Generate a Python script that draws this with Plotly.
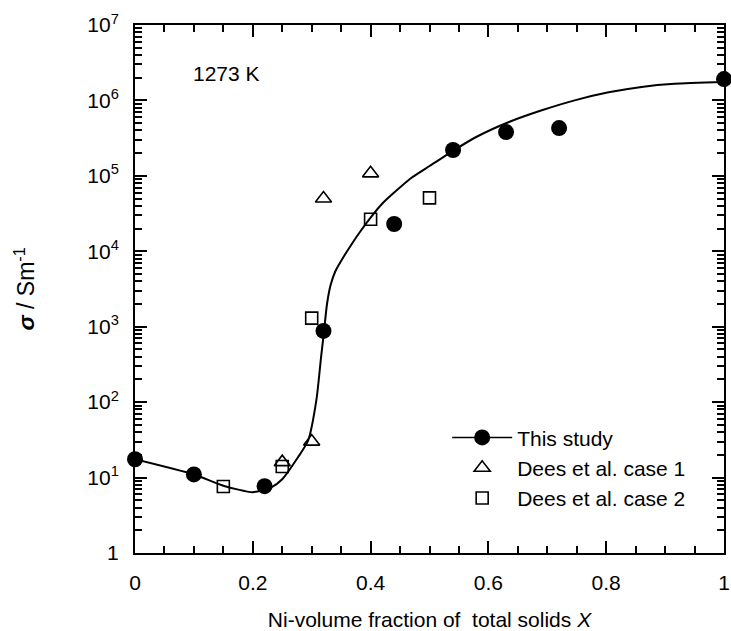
import plotly.graph_objects as go

# ---- data ----
study_x = [0.0, 0.1, 0.22, 0.32, 0.44, 0.54, 0.63, 0.72, 1.0]
study_y = [17.5, 11.0, 7.7, 880, 2.3e4, 2.2e5, 3.8e5, 4.3e5, 1.92e6]

case1_x = [0.25, 0.30, 0.32, 0.40]
case1_y = [16.0, 30.0, 5.0e4, 1.08e5]

case2_x = [0.15, 0.25, 0.30, 0.40, 0.50]
case2_y = [7.6, 14.0, 1300, 2.66e4, 5.1e4]

fit_x = [0.0, 0.1, 0.15, 0.2, 0.23, 0.25, 0.277, 0.294, 0.308, 0.316, 0.321,
         0.326, 0.332, 0.34, 0.356, 0.37, 0.384, 0.40, 0.42, 0.44, 0.47,
         0.50, 0.54, 0.58, 0.636, 0.692, 0.748, 0.804, 0.86, 0.916, 1.0]
fit_y = [17.5, 11.0, 7.8, 6.4, 7.3, 9.5, 18.7, 31, 107, 400, 880,
         2000, 3550, 5400, 8900, 1.32e4, 1.9e4, 2.8e4, 4.3e4, 6.0e4, 9.5e4,
         1.35e5, 2.15e5, 3.3e5, 5.22e5, 7.46e5, 1.01e6, 1.28e6, 1.51e6, 1.66e6, 1.75e6]

x_ticks = [0, 0.2, 0.4, 0.6, 0.8, 1.0]
x_labels = ["0", "0.2", "0.4", "0.6", "0.8", "1"]
y_ticks = [1, 10, 1e2, 1e3, 1e4, 1e5, 1e6, 1e7]
y_labels = ["1"] + [f"10<sup>{n}</sup>" for n in range(1, 8)]

FONT = "Arial, Liberation Sans, sans-serif"

fig = go.Figure()

# fitted curve
fig.add_trace(go.Scatter(
    x=fit_x, y=fit_y, mode="lines",
    line=dict(color="black", width=2, shape="spline", smoothing=0.6),
    showlegend=False, hoverinfo="skip"))

fig.add_trace(go.Scatter(
    x=study_x, y=study_y, mode="markers",
    marker=dict(symbol="circle", size=16, color="black"),
    name="This study", cliponaxis=False, showlegend=False))
# legend entry combining line and marker
fig.add_trace(go.Scatter(
    x=[None], y=[None], mode="lines+markers",
    line=dict(color="black", width=1.5),
    marker=dict(symbol="circle", size=16, color="black"),
    name="This study"))

fig.add_trace(go.Scatter(
    x=case1_x, y=case1_y, mode="markers", name="Dees et al. case 1",
    marker=dict(symbol="triangle-up-open", size=14, color="black",
                line=dict(width=1.6, color="black"))))

fig.add_trace(go.Scatter(
    x=case2_x, y=case2_y, mode="markers", name="Dees et al. case 2",
    marker=dict(symbol="square-open", size=12, color="black",
                line=dict(width=1.6, color="black"))))

axis_common = dict(
    showline=True, linecolor="black", linewidth=2, mirror="allticks",
    ticks="inside", ticklen=12, tickwidth=1.5, tickcolor="black",
    showgrid=False, zeroline=False,
    tickfont=dict(family=FONT, size=21, color="black"),
    ticklabelstandoff=10, ticklabeloverflow="allow",
)

fig.update_layout(
    width=731, height=631,
    margin=dict(l=135, r=1, t=25, b=78),
    paper_bgcolor="white", plot_bgcolor="white",
    font=dict(family=FONT, size=21, color="black"),
    xaxis=dict(
        range=[0, 1], tickvals=x_ticks, ticktext=x_labels,
        minor=dict(dtick=0.05, ticks="inside", ticklen=7, tickwidth=1.5,
                   tickcolor="black", showgrid=False),
        title=dict(text="Ni-volume fraction of\u00a0 total solids <i>X</i>",
                   font=dict(family=FONT, size=21), standoff=20),
        **axis_common),
    yaxis=dict(
        type="log", range=[0, 7], tickvals=y_ticks, ticktext=y_labels,
        minor=dict(dtick="D1", ticks="inside", ticklen=7, tickwidth=1.5,
                   tickcolor="black", showgrid=False),
        title=dict(text="<b><i>σ</i></b> / Sm<sup>-1</sup>",
                   font=dict(family=FONT, size=23), standoff=46),
        **axis_common),
    legend=dict(
        x=0.53, y=0.257, xanchor="left", yanchor="top",
        bgcolor="rgba(0,0,0,0)", borderwidth=0,
        font=dict(family=FONT, size=21, color="black"),
        itemwidth=60, tracegroupgap=0),
    annotations=[dict(
        text="1273 K", xref="paper", yref="paper", x=0.1555, y=0.909,
        xanchor="center", yanchor="middle", showarrow=False,
        font=dict(family=FONT, size=21, color="black"))],
)

fig.write_html("out.html")
